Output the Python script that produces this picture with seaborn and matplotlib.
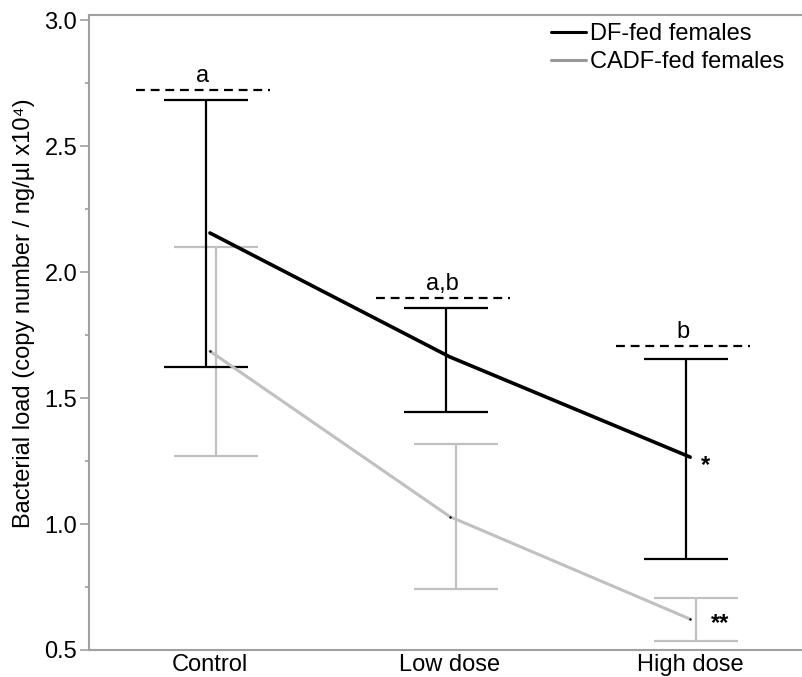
import pandas as pd
import matplotlib
matplotlib.use("Agg")
import matplotlib.pyplot as plt
import seaborn as sns
from matplotlib.lines import Line2D
from matplotlib.ticker import MultipleLocator

sns.set_theme(style="white")
plt.rcParams['font.family'] = ['Liberation Sans', 'DejaVu Sans']
plt.rcParams.update({"text.color": "black", "axes.labelcolor": "black",
                     "xtick.labelcolor": "black", "ytick.labelcolor": "black"})

# --- data ---
groups = ["Control", "Low dose", "High dose"]
series = ["DF-fed females", "CADF-fed females"]

df_mean = [2.155, 1.663, 1.266]
df_low = [1.624, 1.446, 0.860]
df_high = [2.683, 1.856, 1.654]

cadf_mean = [1.686, 1.029, 0.623]
cadf_low = [1.271, 0.741, 0.536]
cadf_high = [2.098, 1.316, 0.705]

sig_levels = [2.722, 1.896, 1.706]
sig_letters = ["a", "a,b", "b"]

BLACK = "#000000"
GRAY = "#c0c0c0"
AXIS_GRAY = "#a0a0a0"

pos = list(range(len(groups)))
long_df = pd.DataFrame({
    "pos": pos * 2,
    "load": df_mean + cadf_mean,
    "diet": [series[0]] * 3 + [series[1]] * 3,
})

fig = plt.figure(figsize=(8.03, 6.77), dpi=100)
ax = fig.add_axes([0.1108, 0.0399, 0.8892, 0.9379])

# error bars (gray first, black on top)
ax.errorbar([p + 0.025 for p in pos], cadf_mean,
            yerr=[[m - l for m, l in zip(cadf_mean, cadf_low)],
                  [h - m for m, h in zip(cadf_mean, cadf_high)]],
            fmt="none", ecolor=GRAY, elinewidth=1.6, capsize=30, capthick=1.6, zorder=2)
ax.errorbar([p - 0.017 for p in pos], df_mean,
            yerr=[[m - l for m, l in zip(df_mean, df_low)],
                  [h - m for m, h in zip(df_mean, df_high)]],
            fmt="none", ecolor=BLACK, elinewidth=1.6, capsize=30, capthick=1.6, zorder=3)

# mean lines
sns.lineplot(data=long_df[long_df.diet == series[1]], x="pos", y="load",
             color=GRAY, linewidth=2.2, legend=False, ax=ax, zorder=4)
sns.lineplot(data=long_df[long_df.diet == series[0]], x="pos", y="load",
             color=BLACK, linewidth=2.6, legend=False, ax=ax, zorder=5)
sns.scatterplot(data=long_df, x="pos", y="load", color=BLACK, s=3,
                linewidth=0, legend=False, ax=ax, zorder=6)

# significance dashes and letters
for p, lvl, txt in zip(pos, sig_levels, sig_letters):
    ax.plot([p - 0.31, p + 0.25], [lvl, lvl], color=BLACK, lw=1.6,
            linestyle=(0, (4, 2.6)), zorder=3)
    ax.annotate(txt, (p - 0.03, lvl), xytext=(0, 2), textcoords="offset points",
                ha="center", va="bottom", fontsize=17)

ax.annotate("*", (pos[2], df_mean[2]), xytext=(11, -6), textcoords="offset points",
            ha="center", va="center", fontsize=17, fontweight="bold")
ax.annotate("**", (pos[2], cadf_mean[2]), xytext=(22, -3), textcoords="offset points",
            ha="center", va="center", fontsize=17, fontweight="bold")

# axes styling
ax.set_xlim(-0.504, 2.471)
ax.set_ylim(0.5, 3.02)
ax.set_xticks(pos)
ax.set_xticklabels(groups)
ax.yaxis.set_major_locator(MultipleLocator(0.5))
ax.yaxis.set_minor_locator(MultipleLocator(0.25))
ax.yaxis.set_major_formatter(matplotlib.ticker.FormatStrFormatter("%.1f"))
ax.tick_params(axis="y", which="major", length=6.5, width=1.2, color=AXIS_GRAY,
               labelsize=17, pad=2, left=True)
ax.tick_params(axis="y", which="minor", length=3, width=1.2, color=AXIS_GRAY, left=True)
ax.tick_params(axis="x", length=0, labelsize=17, pad=3)
for side in ["left", "top", "bottom"]:
    ax.spines[side].set_color(AXIS_GRAY)
    ax.spines[side].set_linewidth(1.5)
ax.spines["right"].set_visible(False)

ax.set_xlabel("")
ax.set_ylabel("Bacterial load (copy number / ng/µl x10⁴)", fontsize=17)
ax.yaxis.set_label_coords(-0.076, 0.53)

handles = [Line2D([], [], color=BLACK, lw=2.2), Line2D([], [], color="#999999", lw=2.2)]
fig.legend(handles, series, loc="upper right", bbox_to_anchor=(0.997, 0.99),
           frameon=False, fontsize=17, handlelength=1.5, handletextpad=0.15,
           labelspacing=0.25, borderpad=0.2)

fig.savefig("out.png", dpi=100)
